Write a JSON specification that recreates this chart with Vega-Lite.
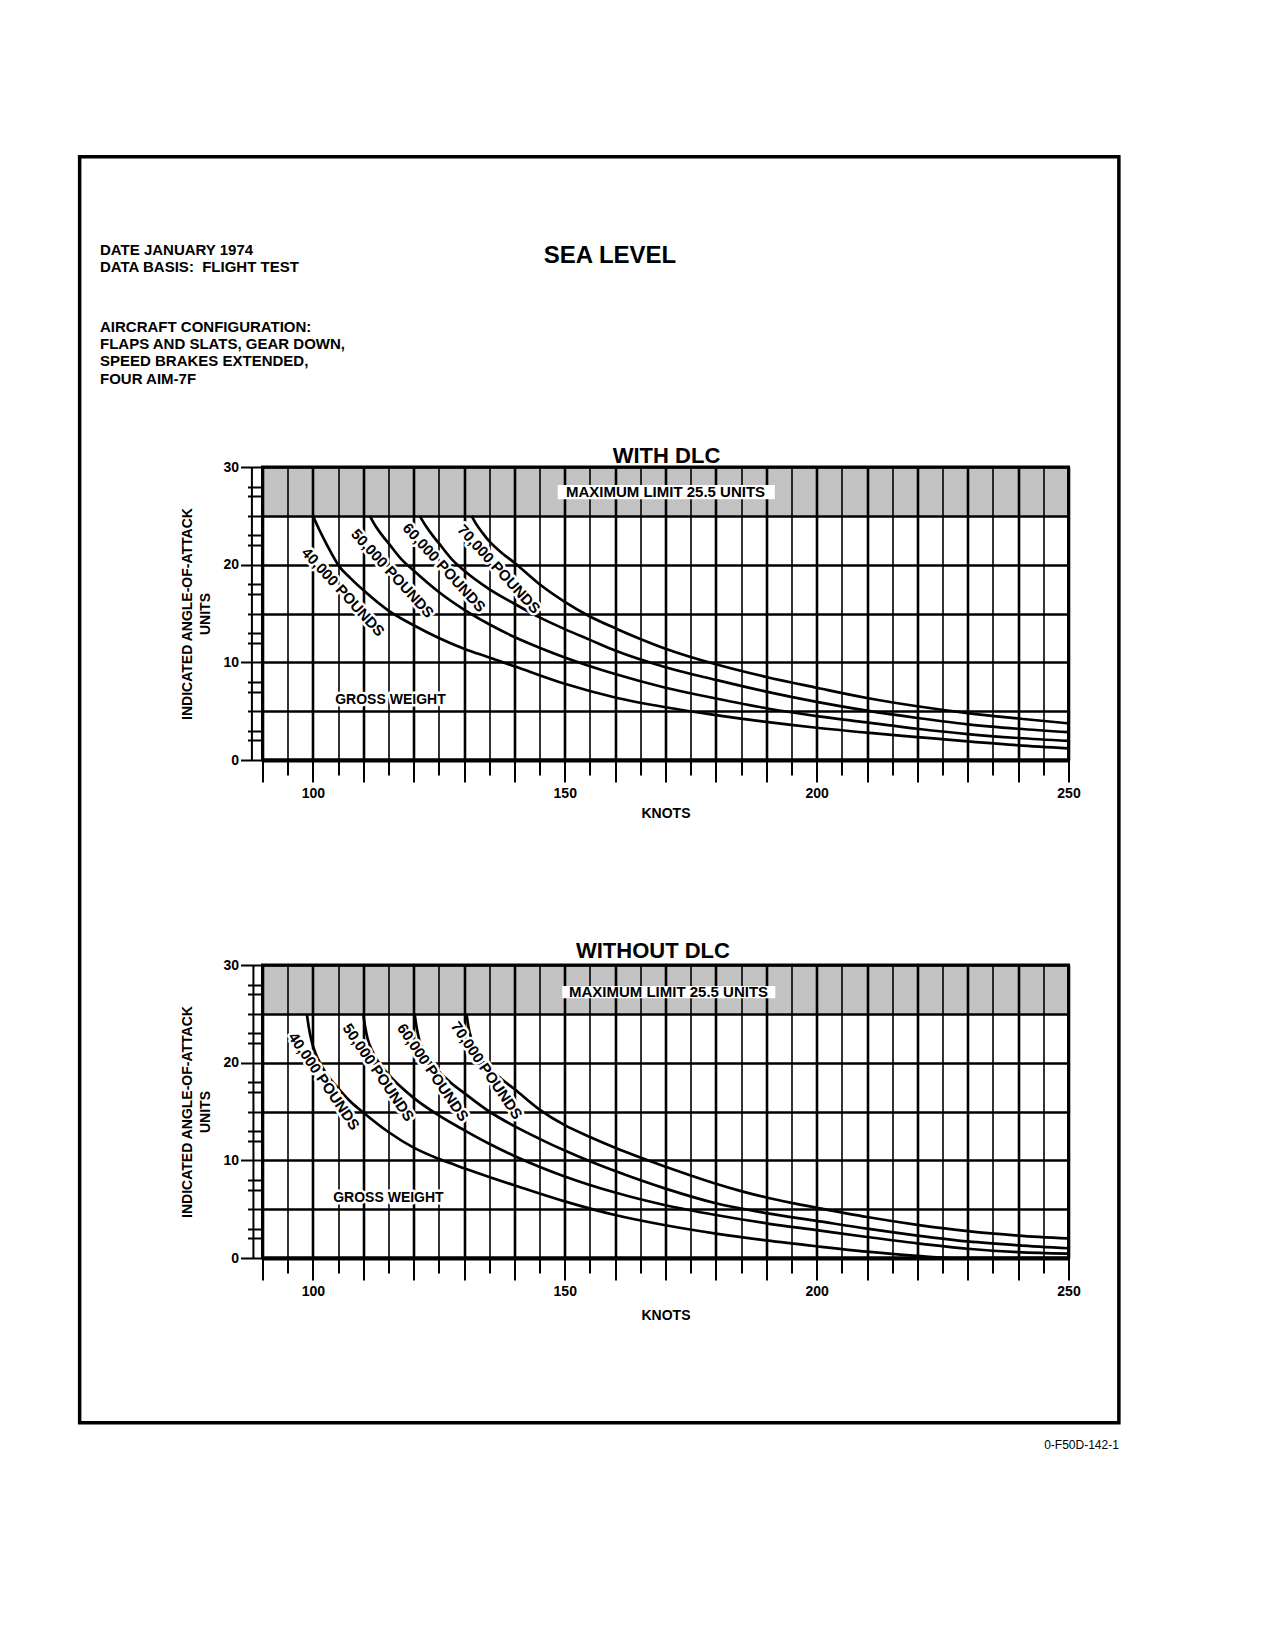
{
  "$schema": "https://vega.github.io/schema/vega-lite/v6.json",
  "description": "Indicated angle-of-attack vs knots at sea level, with and without DLC.",
  "padding": {"left": 75.5, "top": 153, "right": 10, "bottom": 10},
  "bounds": "flush",
  "spacing": 205,
  "config": {
    "font": "Liberation Sans",
    "view": {"stroke": "black", "strokeWidth": 3},
    "axis": {
      "gridColor": "black", "gridOpacity": 1, "tickColor": "black", "domainColor": "black",
      "labelColor": "black", "titleColor": "black",
      "labelFont": "Liberation Sans", "labelFontWeight": "bold", "labelFontSize": 14,
      "titleFont": "Liberation Sans", "titleFontWeight": "bold", "titleFontSize": 14
    },
    "text": {"font": "Liberation Sans", "fontWeight": "bold", "color": "black"}
  },
  "datasets": {
    "curves": [
      {"panel": "WITH DLC", "weight": "40,000", "knots": 100, "aoa": 25},
      {"panel": "WITH DLC", "weight": "40,000", "knots": 101.25, "aoa": 23.6},
      {"panel": "WITH DLC", "weight": "40,000", "knots": 102.5, "aoa": 22.3},
      {"panel": "WITH DLC", "weight": "40,000", "knots": 103.75, "aoa": 21.1},
      {"panel": "WITH DLC", "weight": "40,000", "knots": 105, "aoa": 20.0},
      {"panel": "WITH DLC", "weight": "40,000", "knots": 107.5, "aoa": 18.6},
      {"panel": "WITH DLC", "weight": "40,000", "knots": 110, "aoa": 17.4},
      {"panel": "WITH DLC", "weight": "40,000", "knots": 115, "aoa": 15.3},
      {"panel": "WITH DLC", "weight": "40,000", "knots": 120, "aoa": 13.8},
      {"panel": "WITH DLC", "weight": "40,000", "knots": 125, "aoa": 12.5},
      {"panel": "WITH DLC", "weight": "40,000", "knots": 130, "aoa": 11.4},
      {"panel": "WITH DLC", "weight": "40,000", "knots": 135, "aoa": 10.5},
      {"panel": "WITH DLC", "weight": "40,000", "knots": 140, "aoa": 9.6},
      {"panel": "WITH DLC", "weight": "40,000", "knots": 150, "aoa": 7.8},
      {"panel": "WITH DLC", "weight": "40,000", "knots": 160, "aoa": 6.4},
      {"panel": "WITH DLC", "weight": "40,000", "knots": 170, "aoa": 5.4},
      {"panel": "WITH DLC", "weight": "40,000", "knots": 180, "aoa": 4.6},
      {"panel": "WITH DLC", "weight": "40,000", "knots": 190, "aoa": 3.9},
      {"panel": "WITH DLC", "weight": "40,000", "knots": 200, "aoa": 3.3},
      {"panel": "WITH DLC", "weight": "40,000", "knots": 210, "aoa": 2.8},
      {"panel": "WITH DLC", "weight": "40,000", "knots": 220, "aoa": 2.35},
      {"panel": "WITH DLC", "weight": "40,000", "knots": 230, "aoa": 1.9},
      {"panel": "WITH DLC", "weight": "40,000", "knots": 240, "aoa": 1.5},
      {"panel": "WITH DLC", "weight": "40,000", "knots": 250, "aoa": 1.2},
      {"panel": "WITH DLC", "weight": "50,000", "knots": 111.3, "aoa": 25},
      {"panel": "WITH DLC", "weight": "50,000", "knots": 112.5, "aoa": 23.9},
      {"panel": "WITH DLC", "weight": "50,000", "knots": 113.75, "aoa": 23.0},
      {"panel": "WITH DLC", "weight": "50,000", "knots": 115, "aoa": 22.2},
      {"panel": "WITH DLC", "weight": "50,000", "knots": 117.5, "aoa": 20.6},
      {"panel": "WITH DLC", "weight": "50,000", "knots": 120, "aoa": 19.4},
      {"panel": "WITH DLC", "weight": "50,000", "knots": 125, "aoa": 17.2},
      {"panel": "WITH DLC", "weight": "50,000", "knots": 130, "aoa": 15.4},
      {"panel": "WITH DLC", "weight": "50,000", "knots": 135, "aoa": 13.9},
      {"panel": "WITH DLC", "weight": "50,000", "knots": 140, "aoa": 12.6},
      {"panel": "WITH DLC", "weight": "50,000", "knots": 145, "aoa": 11.5},
      {"panel": "WITH DLC", "weight": "50,000", "knots": 150, "aoa": 10.5},
      {"panel": "WITH DLC", "weight": "50,000", "knots": 160, "aoa": 8.8},
      {"panel": "WITH DLC", "weight": "50,000", "knots": 170, "aoa": 7.4},
      {"panel": "WITH DLC", "weight": "50,000", "knots": 180, "aoa": 6.3},
      {"panel": "WITH DLC", "weight": "50,000", "knots": 190, "aoa": 5.3},
      {"panel": "WITH DLC", "weight": "50,000", "knots": 200, "aoa": 4.5},
      {"panel": "WITH DLC", "weight": "50,000", "knots": 210, "aoa": 3.85},
      {"panel": "WITH DLC", "weight": "50,000", "knots": 220, "aoa": 3.2},
      {"panel": "WITH DLC", "weight": "50,000", "knots": 230, "aoa": 2.65},
      {"panel": "WITH DLC", "weight": "50,000", "knots": 240, "aoa": 2.25},
      {"panel": "WITH DLC", "weight": "50,000", "knots": 250, "aoa": 1.95},
      {"panel": "WITH DLC", "weight": "60,000", "knots": 121.2, "aoa": 25},
      {"panel": "WITH DLC", "weight": "60,000", "knots": 122.5, "aoa": 23.9},
      {"panel": "WITH DLC", "weight": "60,000", "knots": 123.75, "aoa": 23.0},
      {"panel": "WITH DLC", "weight": "60,000", "knots": 125, "aoa": 22.2},
      {"panel": "WITH DLC", "weight": "60,000", "knots": 127.5, "aoa": 20.6},
      {"panel": "WITH DLC", "weight": "60,000", "knots": 130, "aoa": 19.4},
      {"panel": "WITH DLC", "weight": "60,000", "knots": 135, "aoa": 17.5},
      {"panel": "WITH DLC", "weight": "60,000", "knots": 140, "aoa": 16.0},
      {"panel": "WITH DLC", "weight": "60,000", "knots": 145, "aoa": 14.6},
      {"panel": "WITH DLC", "weight": "60,000", "knots": 150, "aoa": 13.4},
      {"panel": "WITH DLC", "weight": "60,000", "knots": 155, "aoa": 12.3},
      {"panel": "WITH DLC", "weight": "60,000", "knots": 160, "aoa": 11.2},
      {"panel": "WITH DLC", "weight": "60,000", "knots": 170, "aoa": 9.5},
      {"panel": "WITH DLC", "weight": "60,000", "knots": 180, "aoa": 8.2},
      {"panel": "WITH DLC", "weight": "60,000", "knots": 190, "aoa": 7.0},
      {"panel": "WITH DLC", "weight": "60,000", "knots": 200, "aoa": 5.95},
      {"panel": "WITH DLC", "weight": "60,000", "knots": 210, "aoa": 5.05},
      {"panel": "WITH DLC", "weight": "60,000", "knots": 220, "aoa": 4.3},
      {"panel": "WITH DLC", "weight": "60,000", "knots": 230, "aoa": 3.65},
      {"panel": "WITH DLC", "weight": "60,000", "knots": 240, "aoa": 3.2},
      {"panel": "WITH DLC", "weight": "60,000", "knots": 250, "aoa": 2.85},
      {"panel": "WITH DLC", "weight": "70,000", "knots": 131.5, "aoa": 25},
      {"panel": "WITH DLC", "weight": "70,000", "knots": 132.5, "aoa": 24.1},
      {"panel": "WITH DLC", "weight": "70,000", "knots": 133.75, "aoa": 23.2},
      {"panel": "WITH DLC", "weight": "70,000", "knots": 135, "aoa": 22.4},
      {"panel": "WITH DLC", "weight": "70,000", "knots": 137.5, "aoa": 21.2},
      {"panel": "WITH DLC", "weight": "70,000", "knots": 140, "aoa": 20.2},
      {"panel": "WITH DLC", "weight": "70,000", "knots": 145, "aoa": 18.0},
      {"panel": "WITH DLC", "weight": "70,000", "knots": 150, "aoa": 16.2},
      {"panel": "WITH DLC", "weight": "70,000", "knots": 155, "aoa": 14.7},
      {"panel": "WITH DLC", "weight": "70,000", "knots": 160, "aoa": 13.5},
      {"panel": "WITH DLC", "weight": "70,000", "knots": 165, "aoa": 12.4},
      {"panel": "WITH DLC", "weight": "70,000", "knots": 170, "aoa": 11.4},
      {"panel": "WITH DLC", "weight": "70,000", "knots": 180, "aoa": 9.8},
      {"panel": "WITH DLC", "weight": "70,000", "knots": 190, "aoa": 8.5},
      {"panel": "WITH DLC", "weight": "70,000", "knots": 200, "aoa": 7.4},
      {"panel": "WITH DLC", "weight": "70,000", "knots": 210, "aoa": 6.35},
      {"panel": "WITH DLC", "weight": "70,000", "knots": 220, "aoa": 5.5},
      {"panel": "WITH DLC", "weight": "70,000", "knots": 230, "aoa": 4.8},
      {"panel": "WITH DLC", "weight": "70,000", "knots": 240, "aoa": 4.25},
      {"panel": "WITH DLC", "weight": "70,000", "knots": 250, "aoa": 3.75},
      {"panel": "WITHOUT DLC", "weight": "40,000", "knots": 98.8, "aoa": 25},
      {"panel": "WITHOUT DLC", "weight": "40,000", "knots": 99.2, "aoa": 23.6},
      {"panel": "WITHOUT DLC", "weight": "40,000", "knots": 99.7, "aoa": 22.3},
      {"panel": "WITHOUT DLC", "weight": "40,000", "knots": 100.5, "aoa": 21.0},
      {"panel": "WITHOUT DLC", "weight": "40,000", "knots": 101.5, "aoa": 19.9},
      {"panel": "WITHOUT DLC", "weight": "40,000", "knots": 102.5, "aoa": 19.0},
      {"panel": "WITHOUT DLC", "weight": "40,000", "knots": 105, "aoa": 17.4},
      {"panel": "WITHOUT DLC", "weight": "40,000", "knots": 107.5, "aoa": 16.0},
      {"panel": "WITHOUT DLC", "weight": "40,000", "knots": 110, "aoa": 14.9},
      {"panel": "WITHOUT DLC", "weight": "40,000", "knots": 115, "aoa": 12.9},
      {"panel": "WITHOUT DLC", "weight": "40,000", "knots": 120, "aoa": 11.3},
      {"panel": "WITHOUT DLC", "weight": "40,000", "knots": 125, "aoa": 10.15},
      {"panel": "WITHOUT DLC", "weight": "40,000", "knots": 130, "aoa": 9.2},
      {"panel": "WITHOUT DLC", "weight": "40,000", "knots": 135, "aoa": 8.3},
      {"panel": "WITHOUT DLC", "weight": "40,000", "knots": 140, "aoa": 7.45},
      {"panel": "WITHOUT DLC", "weight": "40,000", "knots": 150, "aoa": 5.8},
      {"panel": "WITHOUT DLC", "weight": "40,000", "knots": 160, "aoa": 4.4},
      {"panel": "WITHOUT DLC", "weight": "40,000", "knots": 170, "aoa": 3.35},
      {"panel": "WITHOUT DLC", "weight": "40,000", "knots": 180, "aoa": 2.5},
      {"panel": "WITHOUT DLC", "weight": "40,000", "knots": 190, "aoa": 1.8},
      {"panel": "WITHOUT DLC", "weight": "40,000", "knots": 200, "aoa": 1.2},
      {"panel": "WITHOUT DLC", "weight": "40,000", "knots": 210, "aoa": 0.65},
      {"panel": "WITHOUT DLC", "weight": "40,000", "knots": 220, "aoa": 0.22},
      {"panel": "WITHOUT DLC", "weight": "40,000", "knots": 228, "aoa": 0},
      {"panel": "WITHOUT DLC", "weight": "40,000", "knots": 250, "aoa": 0},
      {"panel": "WITHOUT DLC", "weight": "50,000", "knots": 110, "aoa": 25},
      {"panel": "WITHOUT DLC", "weight": "50,000", "knots": 110.4, "aoa": 23.6},
      {"panel": "WITHOUT DLC", "weight": "50,000", "knots": 110.9, "aoa": 22.4},
      {"panel": "WITHOUT DLC", "weight": "50,000", "knots": 111.7, "aoa": 21.3},
      {"panel": "WITHOUT DLC", "weight": "50,000", "knots": 112.7, "aoa": 20.3},
      {"panel": "WITHOUT DLC", "weight": "50,000", "knots": 115, "aoa": 18.8},
      {"panel": "WITHOUT DLC", "weight": "50,000", "knots": 117.5, "aoa": 17.5},
      {"panel": "WITHOUT DLC", "weight": "50,000", "knots": 120, "aoa": 16.4},
      {"panel": "WITHOUT DLC", "weight": "50,000", "knots": 125, "aoa": 14.6},
      {"panel": "WITHOUT DLC", "weight": "50,000", "knots": 130, "aoa": 13.1},
      {"panel": "WITHOUT DLC", "weight": "50,000", "knots": 135, "aoa": 11.7},
      {"panel": "WITHOUT DLC", "weight": "50,000", "knots": 140, "aoa": 10.45},
      {"panel": "WITHOUT DLC", "weight": "50,000", "knots": 150, "aoa": 8.35},
      {"panel": "WITHOUT DLC", "weight": "50,000", "knots": 160, "aoa": 6.7},
      {"panel": "WITHOUT DLC", "weight": "50,000", "knots": 170, "aoa": 5.4},
      {"panel": "WITHOUT DLC", "weight": "50,000", "knots": 180, "aoa": 4.4},
      {"panel": "WITHOUT DLC", "weight": "50,000", "knots": 190, "aoa": 3.55},
      {"panel": "WITHOUT DLC", "weight": "50,000", "knots": 200, "aoa": 2.85},
      {"panel": "WITHOUT DLC", "weight": "50,000", "knots": 210, "aoa": 2.15},
      {"panel": "WITHOUT DLC", "weight": "50,000", "knots": 220, "aoa": 1.5},
      {"panel": "WITHOUT DLC", "weight": "50,000", "knots": 230, "aoa": 0.95},
      {"panel": "WITHOUT DLC", "weight": "50,000", "knots": 240, "aoa": 0.6},
      {"panel": "WITHOUT DLC", "weight": "50,000", "knots": 250, "aoa": 0.45},
      {"panel": "WITHOUT DLC", "weight": "60,000", "knots": 120.2, "aoa": 25},
      {"panel": "WITHOUT DLC", "weight": "60,000", "knots": 120.6, "aoa": 23.6},
      {"panel": "WITHOUT DLC", "weight": "60,000", "knots": 121.1, "aoa": 22.4},
      {"panel": "WITHOUT DLC", "weight": "60,000", "knots": 122, "aoa": 21.2},
      {"panel": "WITHOUT DLC", "weight": "60,000", "knots": 123, "aoa": 20.3},
      {"panel": "WITHOUT DLC", "weight": "60,000", "knots": 125, "aoa": 19.1},
      {"panel": "WITHOUT DLC", "weight": "60,000", "knots": 127.5, "aoa": 17.9},
      {"panel": "WITHOUT DLC", "weight": "60,000", "knots": 130, "aoa": 16.9},
      {"panel": "WITHOUT DLC", "weight": "60,000", "knots": 135, "aoa": 15.0},
      {"panel": "WITHOUT DLC", "weight": "60,000", "knots": 140, "aoa": 13.5},
      {"panel": "WITHOUT DLC", "weight": "60,000", "knots": 145, "aoa": 12.2},
      {"panel": "WITHOUT DLC", "weight": "60,000", "knots": 150, "aoa": 11.0},
      {"panel": "WITHOUT DLC", "weight": "60,000", "knots": 155, "aoa": 9.9},
      {"panel": "WITHOUT DLC", "weight": "60,000", "knots": 160, "aoa": 8.9},
      {"panel": "WITHOUT DLC", "weight": "60,000", "knots": 170, "aoa": 7.1},
      {"panel": "WITHOUT DLC", "weight": "60,000", "knots": 180, "aoa": 5.6},
      {"panel": "WITHOUT DLC", "weight": "60,000", "knots": 190, "aoa": 4.6},
      {"panel": "WITHOUT DLC", "weight": "60,000", "knots": 200, "aoa": 3.8},
      {"panel": "WITHOUT DLC", "weight": "60,000", "knots": 210, "aoa": 3.0},
      {"panel": "WITHOUT DLC", "weight": "60,000", "knots": 220, "aoa": 2.3},
      {"panel": "WITHOUT DLC", "weight": "60,000", "knots": 230, "aoa": 1.7},
      {"panel": "WITHOUT DLC", "weight": "60,000", "knots": 240, "aoa": 1.3},
      {"panel": "WITHOUT DLC", "weight": "60,000", "knots": 250, "aoa": 1.0},
      {"panel": "WITHOUT DLC", "weight": "70,000", "knots": 130.5, "aoa": 25},
      {"panel": "WITHOUT DLC", "weight": "70,000", "knots": 130.9, "aoa": 23.6},
      {"panel": "WITHOUT DLC", "weight": "70,000", "knots": 131.5, "aoa": 22.4},
      {"panel": "WITHOUT DLC", "weight": "70,000", "knots": 132.3, "aoa": 21.3},
      {"panel": "WITHOUT DLC", "weight": "70,000", "knots": 133.5, "aoa": 20.3},
      {"panel": "WITHOUT DLC", "weight": "70,000", "knots": 135, "aoa": 19.5},
      {"panel": "WITHOUT DLC", "weight": "70,000", "knots": 137.5, "aoa": 18.3},
      {"panel": "WITHOUT DLC", "weight": "70,000", "knots": 140, "aoa": 17.3},
      {"panel": "WITHOUT DLC", "weight": "70,000", "knots": 145, "aoa": 15.2},
      {"panel": "WITHOUT DLC", "weight": "70,000", "knots": 150, "aoa": 13.6},
      {"panel": "WITHOUT DLC", "weight": "70,000", "knots": 155, "aoa": 12.4},
      {"panel": "WITHOUT DLC", "weight": "70,000", "knots": 160, "aoa": 11.3},
      {"panel": "WITHOUT DLC", "weight": "70,000", "knots": 165, "aoa": 10.3},
      {"panel": "WITHOUT DLC", "weight": "70,000", "knots": 170, "aoa": 9.35},
      {"panel": "WITHOUT DLC", "weight": "70,000", "knots": 175, "aoa": 8.45},
      {"panel": "WITHOUT DLC", "weight": "70,000", "knots": 180, "aoa": 7.6},
      {"panel": "WITHOUT DLC", "weight": "70,000", "knots": 185, "aoa": 6.85},
      {"panel": "WITHOUT DLC", "weight": "70,000", "knots": 190, "aoa": 6.2},
      {"panel": "WITHOUT DLC", "weight": "70,000", "knots": 195, "aoa": 5.65},
      {"panel": "WITHOUT DLC", "weight": "70,000", "knots": 200, "aoa": 5.15},
      {"panel": "WITHOUT DLC", "weight": "70,000", "knots": 210, "aoa": 4.2},
      {"panel": "WITHOUT DLC", "weight": "70,000", "knots": 220, "aoa": 3.4},
      {"panel": "WITHOUT DLC", "weight": "70,000", "knots": 230, "aoa": 2.75},
      {"panel": "WITHOUT DLC", "weight": "70,000", "knots": 240, "aoa": 2.3},
      {"panel": "WITHOUT DLC", "weight": "70,000", "knots": 250, "aoa": 2.0}
    ],
    "labels": [
      {"panel": "WITH DLC", "text": "40,000 POUNDS", "knots": 106.0, "aoa": 17.2},
      {"panel": "WITH DLC", "text": "50,000 POUNDS", "knots": 115.8, "aoa": 19.1},
      {"panel": "WITH DLC", "text": "60,000 POUNDS", "knots": 126.05, "aoa": 19.7},
      {"panel": "WITH DLC", "text": "70,000 POUNDS", "knots": 136.9, "aoa": 19.55},
      {"panel": "WITHOUT DLC", "text": "40,000 POUNDS", "knots": 102.2, "aoa": 18.1},
      {"panel": "WITHOUT DLC", "text": "50,000 POUNDS", "knots": 113.0, "aoa": 19.0},
      {"panel": "WITHOUT DLC", "text": "60,000 POUNDS", "knots": 123.8, "aoa": 19.0},
      {"panel": "WITHOUT DLC", "text": "70,000 POUNDS", "knots": 134.5, "aoa": 19.2}
    ]
  },
  "vconcat": [
    {
      "width": 806,
      "height": 293,
      "layer": [
        {
          "data": {"values": [{}]},
          "mark": {"type": "rect", "filled": false, "stroke": "black", "strokeWidth": 3.5},
          "encoding": {"x": {"datum": 53.7}, "x2": {"datum": 260}, "y": {"datum": 61.77}, "y2": {"datum": -67.85}}
        },
        {
          "data": {"values": [{}]},
          "mark": {"type": "text", "text": ["DATE JANUARY 1974", "DATA BASIS:\u00a0 FLIGHT TEST"], "align": "left", "baseline": "alphabetic", "fontSize": 15, "lineHeight": 16.7},
          "encoding": {"x": {"datum": 57.74}, "y": {"datum": 51.68}}
        },
        {
          "data": {"values": [{}]},
          "mark": {"type": "text", "text": ["AIRCRAFT CONFIGURATION:", "FLAPS AND SLATS, GEAR DOWN,", "SPEED BRAKES EXTENDED,", "FOUR AIM-7F"], "align": "left", "baseline": "alphabetic", "fontSize": 15, "lineHeight": 17.2},
          "encoding": {"x": {"datum": 57.74}, "y": {"datum": 43.82}}
        },
        {
          "data": {"values": [{}]},
          "mark": {"type": "text", "text": "SEA LEVEL", "align": "center", "baseline": "alphabetic", "fontSize": 24},
          "encoding": {"x": {"datum": 158.98}, "y": {"datum": 50.9}}
        },
        {
          "data": {"values": [{}]},
          "mark": {"type": "text", "text": "WITH DLC", "align": "center", "baseline": "alphabetic", "fontSize": 22},
          "encoding": {"x": {"datum": 170.2}, "y": {"datum": 30.44}}
        },
        {
          "data": {"values": [{}]},
          "mark": {"type": "rect", "color": "black", "opacity": 0.24},
          "encoding": {"x": {"datum": 90}, "x2": {"datum": 250}, "y": {"datum": 25}, "y2": {"datum": 30}}
        },
        {
          "data": {"values": [{}]},
          "mark": {"type": "rect", "color": "white", "opacity": 1},
          "encoding": {"x": {"datum": 148.6}, "x2": {"datum": 191.7}, "y": {"datum": 26.7}, "y2": {"datum": 28.15}}
        },
        {
          "data": {"values": [{}]},
          "mark": {"type": "text", "text": "MAXIMUM LIMIT 25.5 UNITS", "align": "center", "baseline": "middle", "fontSize": 15},
          "encoding": {"x": {"datum": 170.0}, "y": {"datum": 27.4}}
        },
        {
          "data": {"values": [{}]},
          "mark": {"type": "rule", "color": "black", "strokeWidth": 2},
          "encoding": {"x": {"datum": 87.9}, "y": {"datum": 0}, "y2": {"datum": 30}}
        },
        {
          "data": {"name": "curves"},
          "transform": [{"filter": "datum.panel === 'WITH DLC'"}],
          "mark": {"type": "line", "interpolate": "monotone", "color": "black", "strokeWidth": 2.7},
          "encoding": {
            "x": {
              "field": "knots", "type": "quantitative",
              "scale": {"domain": [90, 250], "nice": false, "zero": false},
              "axis": {
                "title": "KNOTS",
                "values": [90, 95, 100, 105, 110, 115, 120, 125, 130, 135, 140, 145, 150, 155, 160, 165, 170, 175, 180, 185, 190, 195, 200, 205, 210, 215, 220, 225, 230, 235, 240, 245, 250],
                "tickCount": 200,
                "format": "d",
                "grid": true,
                "gridWidth": {"condition": {"test": "datum.value % 10 === 0", "value": 2.6}, "value": 1.6},
                "tickSize": {"condition": {"test": "datum.value % 10 === 0", "value": 22}, "value": 15},
                "tickWidth": 2,
                "labelExpr": "datum.value % 50 === 0 ? datum.label : ''",
                "labelFlush": false,
                "labelOverlap": false,
                "labelPadding": 4,
                "domainWidth": 4,
                "titlePadding": 6
              }
            },
            "y": {
              "field": "aoa", "type": "quantitative",
              "scale": {"domain": [0, 30], "nice": false},
              "axis": {
                "title": ["INDICATED ANGLE-OF-ATTACK", "UNITS"],
                "titleLineHeight": 18.5,
                "values": [0, 1, 2, 2.5, 3, 4, 5, 6, 7, 7.5, 8, 9, 10, 11, 12, 12.5, 13, 14, 15, 16, 17, 17.5, 18, 19, 20, 21, 22, 22.5, 23, 24, 25, 26, 27, 27.5, 28, 29, 30],
                "tickCount": 200,
                "format": "d",
                "grid": true,
                "gridOpacity": {"condition": {"test": "datum.value % 2.5 === 0", "value": 1}, "value": 0},
                "gridWidth": {"condition": {"test": "datum.value % 5 === 0", "value": 2.6}, "value": 1.6},
                "tickOpacity": {"condition": {"test": "datum.value % 1 !== 0", "value": 0}, "value": 1},
                "tickSize": {"condition": {"test": "datum.value % 10 === 0", "value": 22}, "value": 15},
                "tickWidth": 2,
                "labelExpr": "datum.value % 10 === 0 ? datum.label : ''",
                "labelOverlap": false,
                "labelPadding": 2,
                "domain": false,
                "titlePadding": 10
              }
            },
            "detail": {"field": "weight"}
          }
        },
        {
          "data": {"name": "labels"},
          "transform": [{"filter": "datum.panel === 'WITH DLC'"}],
          "mark": {"type": "text", "angle": 47.5, "align": "center", "baseline": "middle", "fontSize": 15, "fill": "white", "stroke": "white", "strokeWidth": 5, "strokeJoin": "round"},
          "encoding": {"x": {"field": "knots", "type": "quantitative"}, "y": {"field": "aoa", "type": "quantitative"}, "text": {"field": "text"}}
        },
        {
          "data": {"name": "labels"},
          "transform": [{"filter": "datum.panel === 'WITH DLC'"}],
          "mark": {"type": "text", "angle": 47.5, "align": "center", "baseline": "middle", "fontSize": 15, "fill": "black"},
          "encoding": {"x": {"field": "knots", "type": "quantitative"}, "y": {"field": "aoa", "type": "quantitative"}, "text": {"field": "text"}}
        },
        {
          "data": {"values": [{}]},
          "mark": {"type": "text", "text": "GROSS WEIGHT", "align": "center", "baseline": "middle", "fontSize": 14, "fill": "white", "stroke": "white", "strokeWidth": 5, "strokeJoin": "round"},
          "encoding": {"x": {"datum": 115.4}, "y": {"datum": 6.1}}
        },
        {
          "data": {"values": [{}]},
          "mark": {"type": "text", "text": "GROSS WEIGHT", "align": "center", "baseline": "middle", "fontSize": 14, "fill": "black"},
          "encoding": {"x": {"datum": 115.4}, "y": {"datum": 6.1}}
        }
      ]
    },
    {
      "width": 806,
      "height": 293,
      "layer": [
        {
          "data": {"values": [{}]},
          "mark": {"type": "text", "text": "WITHOUT DLC", "align": "center", "baseline": "alphabetic", "fontSize": 22},
          "encoding": {"x": {"datum": 167.5}, "y": {"datum": 30.67}}
        },
        {
          "data": {"values": [{}]},
          "mark": {"type": "text", "text": "0-F50D-142-1", "align": "right", "baseline": "middle", "fontSize": 12, "fontWeight": "normal"},
          "encoding": {"x": {"datum": 260}, "y": {"datum": -19.12}}
        },
        {
          "data": {"values": [{}]},
          "mark": {"type": "rect", "color": "black", "opacity": 0.24},
          "encoding": {"x": {"datum": 90}, "x2": {"datum": 250}, "y": {"datum": 25}, "y2": {"datum": 30}}
        },
        {
          "data": {"values": [{}]},
          "mark": {"type": "rect", "color": "white", "opacity": 1},
          "encoding": {"x": {"datum": 149.5}, "x2": {"datum": 191.8}, "y": {"datum": 26.6}, "y2": {"datum": 27.85}}
        },
        {
          "data": {"values": [{}]},
          "mark": {"type": "text", "text": "MAXIMUM LIMIT 25.5 UNITS", "align": "center", "baseline": "middle", "fontSize": 15},
          "encoding": {"x": {"datum": 170.6}, "y": {"datum": 27.2}}
        },
        {
          "data": {"values": [{}]},
          "mark": {"type": "rule", "color": "black", "strokeWidth": 2},
          "encoding": {"x": {"datum": 88.2}, "y": {"datum": 0}, "y2": {"datum": 30}}
        },
        {
          "data": {"name": "curves"},
          "transform": [{"filter": "datum.panel === 'WITHOUT DLC'"}],
          "mark": {"type": "line", "interpolate": "monotone", "color": "black", "strokeWidth": 2.7},
          "encoding": {
            "x": {
              "field": "knots", "type": "quantitative",
              "scale": {"domain": [90, 250], "nice": false, "zero": false},
              "axis": {
                "title": "KNOTS",
                "values": [90, 95, 100, 105, 110, 115, 120, 125, 130, 135, 140, 145, 150, 155, 160, 165, 170, 175, 180, 185, 190, 195, 200, 205, 210, 215, 220, 225, 230, 235, 240, 245, 250],
                "tickCount": 200,
                "format": "d",
                "grid": true,
                "gridWidth": {"condition": {"test": "datum.value % 10 === 0", "value": 2.6}, "value": 1.6},
                "tickSize": {"condition": {"test": "datum.value % 10 === 0", "value": 22}, "value": 15},
                "tickWidth": 2,
                "labelExpr": "datum.value % 50 === 0 ? datum.label : ''",
                "labelFlush": false,
                "labelOverlap": false,
                "labelPadding": 4,
                "domainWidth": 4,
                "titlePadding": 10
              }
            },
            "y": {
              "field": "aoa", "type": "quantitative",
              "scale": {"domain": [0, 30], "nice": false},
              "axis": {
                "title": ["INDICATED ANGLE-OF-ATTACK", "UNITS"],
                "titleLineHeight": 18.5,
                "values": [0, 1, 2, 2.5, 3, 4, 5, 6, 7, 7.5, 8, 9, 10, 11, 12, 12.5, 13, 14, 15, 16, 17, 17.5, 18, 19, 20, 21, 22, 22.5, 23, 24, 25, 26, 27, 27.5, 28, 29, 30],
                "tickCount": 200,
                "format": "d",
                "grid": true,
                "gridOpacity": {"condition": {"test": "datum.value % 2.5 === 0", "value": 1}, "value": 0},
                "gridWidth": {"condition": {"test": "datum.value % 5 === 0", "value": 2.6}, "value": 1.6},
                "tickOpacity": {"condition": {"test": "datum.value % 1 !== 0", "value": 0}, "value": 1},
                "tickSize": {"condition": {"test": "datum.value % 10 === 0", "value": 22}, "value": 15},
                "tickWidth": 2,
                "labelExpr": "datum.value % 10 === 0 ? datum.label : ''",
                "labelOverlap": false,
                "labelPadding": 2,
                "domain": false,
                "titlePadding": 10
              }
            },
            "detail": {"field": "weight"}
          }
        },
        {
          "data": {"name": "labels"},
          "transform": [{"filter": "datum.panel === 'WITHOUT DLC'"}],
          "mark": {"type": "text", "angle": 55.7, "align": "center", "baseline": "middle", "fontSize": 15, "fill": "white", "stroke": "white", "strokeWidth": 5, "strokeJoin": "round"},
          "encoding": {"x": {"field": "knots", "type": "quantitative"}, "y": {"field": "aoa", "type": "quantitative"}, "text": {"field": "text"}}
        },
        {
          "data": {"name": "labels"},
          "transform": [{"filter": "datum.panel === 'WITHOUT DLC'"}],
          "mark": {"type": "text", "angle": 55.7, "align": "center", "baseline": "middle", "fontSize": 15, "fill": "black"},
          "encoding": {"x": {"field": "knots", "type": "quantitative"}, "y": {"field": "aoa", "type": "quantitative"}, "text": {"field": "text"}}
        },
        {
          "data": {"values": [{}]},
          "mark": {"type": "text", "text": "GROSS WEIGHT", "align": "center", "baseline": "middle", "fontSize": 14, "fill": "white", "stroke": "white", "strokeWidth": 5, "strokeJoin": "round"},
          "encoding": {"x": {"datum": 115.0}, "y": {"datum": 6.1}}
        },
        {
          "data": {"values": [{}]},
          "mark": {"type": "text", "text": "GROSS WEIGHT", "align": "center", "baseline": "middle", "fontSize": 14, "fill": "black"},
          "encoding": {"x": {"datum": 115.0}, "y": {"datum": 6.1}}
        }
      ]
    }
  ]
}
